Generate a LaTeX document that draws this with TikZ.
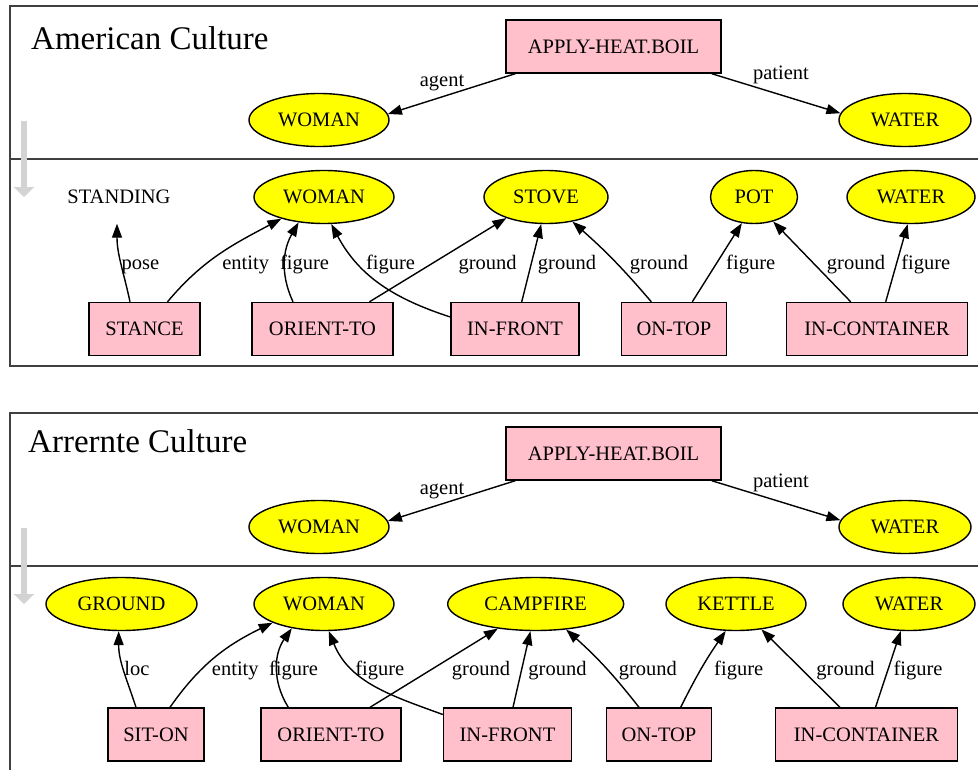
\documentclass[tikz,border=0pt]{standalone}
\usepackage{fontspec}
\setmainfont{Liberation Serif}
\usetikzlibrary{arrows.meta,calc,shapes.geometric}
\definecolor{gvpink}{HTML}{FFC0CB}
\definecolor{gvyellow}{HTML}{FFFF00}
\definecolor{flowgray}{HTML}{D3D3D3}
\begin{document}
\begin{tikzpicture}[x=1bp,y=1bp,
  every node/.style={font=\fontsize{20.5bp}{24bp}\selectfont, inner sep=0pt},
  rel/.style={draw, fill=gvpink, rectangle, minimum height=53bp, line width=1.4bp},
  ent/.style={draw, fill=gvyellow, ellipse, minimum height=53bp, line width=1.4bp},
  plain/.style={ellipse, minimum height=53bp},
  edge/.style={line width=1.4bp, -{Triangle[length=14bp,width=10bp]}},
  lab/.style={anchor=base},
  panel/.style={line width=1.2bp, draw=black!75},
  title/.style={anchor=base west, font=\fontsize{33bp}{40bp}\selectfont},
  flow/.style={draw=flowgray, line width=6bp, -{Triangle[length=10bp,width=20bp]}}
]
\useasboundingbox (0,0) rectangle (978,-770);
\clip (0,0) rectangle (978,-770);

% ---------------- panels ----------------
\draw[panel] (990,-6) -- (10,-6) -- (10,-366) -- (990,-366);
\draw[panel] (10,-159) -- (990,-159);
\draw[panel] (990,-413) -- (10,-413) -- (10,-775);
\draw[panel] (10,-566) -- (990,-566);

\coordinate (f1a) at (24,-121);
\coordinate (f1b) at (24,-197);
\coordinate (f2a) at (24,-528);
\coordinate (f2b) at (24,-604);
\draw[flow] (f1a) -- (f1b);
\draw[flow] (f2a) -- (f2b);

\node[title] (t1) at (31,-50) {American Culture};
\node[title] (t2) at (28,-452) {Arrernte Culture};

% ---------------- American ----------------
\node[rel, minimum width=215bp] (apply1) at (613.5,-46.5) {APPLY-HEAT.BOIL};
\node[ent, minimum width=140bp] (woman1) at (319,-120) {WOMAN};
\node[ent, minimum width=132bp] (water1) at (905,-120) {WATER};

\node[plain, minimum width=110bp] (standing) at (119,-197) {STANDING};
\node[ent, minimum width=140bp] (woman2) at (324,-197) {WOMAN};
\node[ent, minimum width=124bp] (stove) at (546,-197) {STOVE};
\node[ent, minimum width=87bp] (pot) at (754,-197) {POT};
\node[ent, minimum width=128bp] (water2) at (911,-197) {WATER};

\node[rel, minimum width=111bp] (stance) at (144.5,-329) {STANCE};
\node[rel, minimum width=141bp] (orient1) at (322.5,-329) {ORIENT-TO};
\node[rel, minimum width=128bp] (infront1) at (515,-329) {IN-FRONT};
\node[rel, minimum width=105bp] (ontop1) at (674,-329) {ON-TOP};
\node[rel, minimum width=181bp] (incont1) at (877,-329) {IN-CONTAINER};

\draw[edge] ($(apply1.south west)+(10,0)$) -- (woman1.5);
\draw[edge] ($(apply1.south east)+(-10,0)$) -- (water1.174);
\node[lab] (l1) at (442,-87) {agent};
\node[lab] (l2) at (781,-80) {patient};

\draw[edge] ($(stance.north)+(-14.5,0)$) to[out=102,in=-90] ($(standing.south)+(-2,0)$);
\draw[edge] ($(stance.north)+(23,0)$) to[out=50,in=208] (woman2.207);
\draw[edge] ($(orient1.north)+(-29.5,0)$) to[out=115,in=240] (woman2.225);
\draw[edge] ($(infront1.west)+(0,12)$) to[out=162,in=-62] (woman2.285);
\draw[edge] ($(orient1.north)+(47,0)$) -- (stove.208);
\draw[edge] ($(infront1.north)+(6.7,0)$) -- (stove.260);
\draw[edge] ($(ontop1.north)+(-22.7,0)$) to[bend right=4] (stove.317);
\draw[edge] ($(ontop1.north)+(18.3,0)$) -- (pot.245);
\draw[edge] ($(incont1.north)+(-26.3,0)$) -- (pot.308);
\draw[edge] ($(incont1.north)+(8.7,0)$) -- (water2.263);

\node[lab] (l3) at (140.5,-269) {pose};
\node[lab] (l4) at (245.7,-269) {entity};
\node[lab] (l5) at (304.5,-269) {figure};
\node[lab] (l6) at (390.5,-269) {figure};
\node[lab] (l7) at (487.6,-269) {ground};
\node[lab] (l8) at (567,-269) {ground};
\node[lab] (l9) at (659,-269) {ground};
\node[lab] (l10) at (750.7,-269) {figure};
\node[lab] (l11) at (856,-269) {ground};
\node[lab] (l12) at (925.8,-269) {figure};

% ---------------- Arrernte ----------------
\node[rel, minimum width=215bp] (apply2) at (613.5,-453.5) {APPLY-HEAT.BOIL};
\node[ent, minimum width=140bp] (woman3) at (319,-527) {WOMAN};
\node[ent, minimum width=132bp] (water3) at (905,-527) {WATER};

\node[ent, minimum width=151bp] (ground) at (121.5,-604) {GROUND};
\node[ent, minimum width=140bp] (woman4) at (324,-604) {WOMAN};
\node[ent, minimum width=176bp] (campfire) at (535.7,-604) {CAMPFIRE};
\node[ent, minimum width=140bp] (kettle) at (736,-604) {KETTLE};
\node[ent, minimum width=132bp] (water4) at (909,-604) {WATER};

\node[rel, minimum width=96bp] (siton) at (156,-734.5) {SIT-ON};
\node[rel, minimum width=140bp] (orient2) at (331,-734.5) {ORIENT-TO};
\node[rel, minimum width=128bp] (infront2) at (507.5,-734.5) {IN-FRONT};
\node[rel, minimum width=105bp] (ontop2) at (659,-734.5) {ON-TOP};
\node[rel, minimum width=182bp] (incont2) at (866.5,-734.5) {IN-CONTAINER};

\draw[edge] ($(apply2.south west)+(10,0)$) -- (woman3.5);
\draw[edge] ($(apply2.south east)+(-10,0)$) -- (water3.174);
\node[lab] (m1) at (442,-494) {agent};
\node[lab] (m2) at (781,-487) {patient};

\draw[edge] ($(siton.north)+(-20,0)$) to[out=108,in=-90] (ground.264);
\draw[edge] ($(siton.north)+(14,0)$) to[out=55,in=206] (woman4.200);
\draw[edge] ($(orient2.north)+(-42.7,0)$) to[out=122,in=235] (woman4.217);
\draw[edge] ($(infront2.west)+(0,20)$) to[out=160,in=-68] (woman4.280);
\draw[edge] ($(orient2.north)+(39,0)$) -- (campfire.213);
\draw[edge] ($(infront2.north)+(5.5,0)$) -- (campfire.259);
\draw[edge] ($(ontop2.north)+(-20,0)$) to[bend right=5] (campfire.320);
\draw[edge] ($(ontop2.north)+(21.7,0)$) to[bend left=4] (kettle.249);
\draw[edge] ($(incont2.north)+(-26.5,0)$) -- (kettle.315);
\draw[edge] ($(incont2.north)+(9,0)$) -- (water4.253);

\node[lab] (m3) at (137,-675) {loc};
\node[lab] (m4) at (235.3,-675) {entity};
\node[lab] (m5) at (293.5,-675) {figure};
\node[lab] (m6) at (379.8,-675) {figure};
\node[lab] (m7) at (481,-675) {ground};
\node[lab] (m8) at (557.5,-675) {ground};
\node[lab] (m9) at (647.8,-675) {ground};
\node[lab] (m10) at (738.7,-675) {figure};
\node[lab] (m11) at (845.5,-675) {ground};
\node[lab] (m12) at (918,-675) {figure};
\end{tikzpicture}
\end{document}
